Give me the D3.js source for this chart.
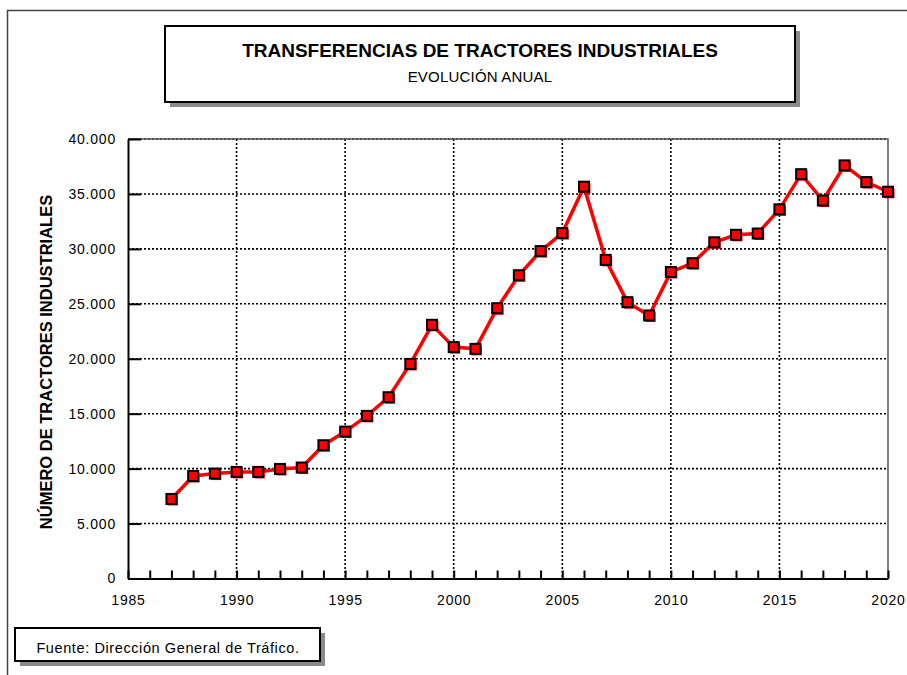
<!DOCTYPE html>
<meta charset="utf-8">
<style>
body { margin: 0; background: #fff; }
svg { font-family: Arial, "Liberation Sans", sans-serif; }
.grid line { stroke: #000; stroke-width: 1.6; stroke-dasharray: 2,2; }
.axis path, .axis line { stroke: #000; stroke-width: 2; }
.axis text { font-size: 14px; fill: #000; letter-spacing: 0.8px; font-family: Arial, "Liberation Sans", sans-serif; }
.line { fill: none; stroke: #ff0000; stroke-width: 3.5; }
.dot { fill: #ff0000; stroke: #000; stroke-width: 2; }
</style>
<body></body>
<script src="https://d3js.org/d3.v7.min.js"></script>
<script>
// datos: transferencias anuales de tractores industriales
var years = [1987, 1988, 1989, 1990, 1991, 1992, 1993, 1994, 1995, 1996, 1997,
  1998, 1999, 2000, 2001, 2002, 2003, 2004, 2005, 2006, 2007, 2008, 2009, 2010,
  2011, 2012, 2013, 2014, 2015, 2016, 2017, 2018, 2019, 2020];
var values = [7240, 9330, 9550, 9700, 9700, 9970, 10100, 12130, 13370, 14800, 16500,
  19530, 23090, 21060, 20900, 24600, 27600, 29800, 31440, 35660, 29000, 25150, 23940, 27900,
  28700, 30600, 31280, 31400, 33600, 36800, 34400, 37600, 36080, 35200];
var xTicks = [1985, 1990, 1995, 2000, 2005, 2010, 2015, 2020];
var yTicks = [0, 5000, 10000, 15000, 20000, 25000, 30000, 35000, 40000];

var W = 907, H = 675;
var plot = {left: 128, right: 888, top: 139, bottom: 578.5};

var es = d3.formatLocale({decimal: ",", thousands: ".", grouping: [3], currency: ["", "€"]});
var fmt = es.format(",d");

var x = d3.scaleLinear().domain([1985, 2020]).range([plot.left, plot.right]);
var y = d3.scaleLinear().domain([0, 40000]).range([plot.bottom, plot.top]);

var svg = d3.select("body").append("svg")
    .attr("width", W)
    .attr("height", H);

// marco exterior
svg.append("path")
    .attr("d", "M7.5," + H + "V10.5H" + W)
    .attr("fill", "none")
    .attr("stroke", "#444")
    .attr("stroke-width", 1.5);

// caja con sombra
function box(x0, y0, w, h) {
  svg.append("rect").attr("x", x0 + 5).attr("y", y0 + 5).attr("width", w).attr("height", h)
      .attr("fill", "#8a8a8a");
  svg.append("rect").attr("x", x0).attr("y", y0).attr("width", w).attr("height", h)
      .attr("fill", "#fff").attr("stroke", "#000").attr("stroke-width", 2);
}
box(165, 26, 630, 76);
svg.append("text")
    .attr("x", 480).attr("y", 57)
    .attr("text-anchor", "middle")
    .style("font-size", "19px").style("font-weight", "bold")
    .text("TRANSFERENCIAS DE TRACTORES INDUSTRIALES");
svg.append("text")
    .attr("x", 480).attr("y", 82)
    .attr("text-anchor", "middle")
    .style("font-size", "15px")
    .style("letter-spacing", "0.2px")
    .text("EVOLUCIÓN ANUAL");

// rejilla
var grid = svg.append("g").attr("class", "grid");
grid.selectAll(".h").data(yTicks.filter(function(d) { return d > 0; }))
  .enter().append("line")
    .attr("x1", plot.left).attr("x2", plot.right)
    .attr("y1", function(d) { return y(d); })
    .attr("y2", function(d) { return y(d); });
grid.selectAll(".v").data(xTicks.filter(function(d) { return d > 1985 && d < 2020; }))
  .enter().append("line")
    .attr("y1", plot.top).attr("y2", plot.bottom)
    .attr("x1", function(d) { return x(d); })
    .attr("x2", function(d) { return x(d); });

// borde superior y derecho
svg.append("path")
    .attr("d", "M" + plot.left + "," + plot.top + "H" + plot.right + "V" + plot.bottom)
    .attr("fill", "none")
    .attr("stroke", "#555")
    .attr("stroke-width", 1.5);

// ejes
svg.append("g")
    .attr("class", "axis")
    .attr("transform", "translate(0," + plot.bottom + ")")
    .call(d3.axisBottom(x).tickValues(d3.range(1985, 2021)).tickSizeInner(-8).tickSizeOuter(0)
      .tickPadding(17).tickFormat(function(d) { return xTicks.indexOf(d) >= 0 ? d : ""; }));

svg.append("g")
    .attr("class", "axis")
    .attr("transform", "translate(" + plot.left + ",0)")
    .call(d3.axisLeft(y).tickValues(yTicks).tickSizeInner(-13).tickSizeOuter(0)
      .tickPadding(12).tickFormat(fmt));

// titulo eje y
svg.append("text")
    .attr("transform", "translate(52,362) rotate(-90)")
    .attr("text-anchor", "middle")
    .style("font-size", "16.5px").style("font-weight", "bold")
    .text("NÚMERO DE TRACTORES INDUSTRIALES");

// serie
var data = years.map(function(d, i) { return {year: d, value: values[i]}; });
var line = d3.line()
    .x(function(d) { return x(d.year); })
    .y(function(d) { return y(d.value); });

svg.append("path")
    .datum(data)
    .attr("class", "line")
    .attr("d", line);

var s = 10;
svg.selectAll(".shadow")
    .data(data)
  .enter().append("rect")
    .attr("x", function(d) { return x(d.year) - s / 2 + 1.5; })
    .attr("y", function(d) { return y(d.value) - s / 2 + 1.5; })
    .attr("width", s).attr("height", s)
    .attr("fill", "#ff0000");

svg.selectAll(".dot")
    .data(data)
  .enter().append("rect")
    .attr("class", "dot")
    .attr("x", function(d) { return x(d.year) - s / 2; })
    .attr("y", function(d) { return y(d.value) - s / 2; })
    .attr("width", s).attr("height", s);

// fuente
box(15, 628, 305, 33);
svg.append("text")
    .attr("x", 168).attr("y", 653)
    .attr("text-anchor", "middle")
    .style("font-size", "14.5px")
    .style("letter-spacing", "0.6px")
    .text("Fuente: Dirección General de Tráfico.");
</script>
